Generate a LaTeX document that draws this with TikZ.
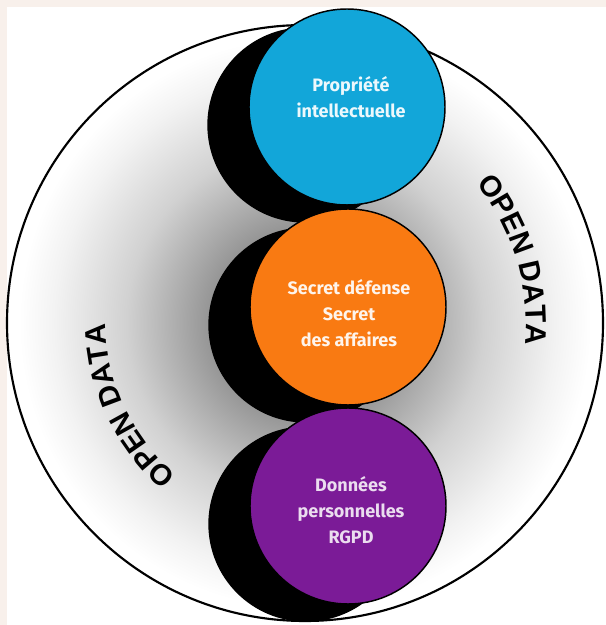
\documentclass[tikz,border=0pt]{standalone}
\usepackage{fontspec}
\usetikzlibrary{decorations.text}
\newfontfamily\circfont{Fira Sans}
\newfontfamily\odfont{Liberation Sans}

\definecolor{propblue}{HTML}{12A6D9}
\definecolor{secorange}{HTML}{F97A12}
\definecolor{rgpdpurple}{HTML}{7B1B97}
\definecolor{framebeige}{HTML}{F8F0EB}

\pgfdeclareradialshading{opendatashade}{\pgfpointorigin}{color(0bp)=(black!62); color(7bp)=(black!45); color(15bp)=(black!18); color(21bp)=(black!5); color(24bp)=(white); color(50bp)=(white)}

\tikzset{
  circtext/.style={align=center, font=\circfont\bfseries\fontsize{13.5}{19.5}\selectfont},
  shadowdisc/.style={line width=1pt, draw=black, fill=black},
  topicdisc/.style={line width=1.1pt, draw=black},
}

\begin{document}
\begin{tikzpicture}[x=0.75pt,y=0.75pt]
       \coordinate (SW) at (0,0);
       \coordinate (NE) at (606,625);
       \coordinate (WSW) at (7,0);
       \coordinate (WNE) at (606,618);

       \coordinate (O) at (305,302);

       \coordinate (P) at (347,518);
       \coordinate (S) at (348,318);
       \coordinate (D) at (348,119);

       \coordinate (PB) at (305,500);
       \coordinate (SB) at (306,300);
       \coordinate (DB) at (306,101);

       \fill[framebeige] (SW) rectangle (NE);
       \fill[white] (WSW) rectangle (WNE);

       \shade[shading=opendatashade] (O) circle (298);
       \draw[line width=1.6pt] (O) circle (298);

       \filldraw[shadowdisc] (PB) circle (97);
       \filldraw[topicdisc,fill=propblue] (P) circle (98);
       \filldraw[shadowdisc] (SB) circle (97);
       \filldraw[topicdisc,fill=secorange] (S) circle (98);
       \filldraw[shadowdisc] (DB) circle (97);
       \filldraw[topicdisc,fill=rgpdpurple] (D) circle (98);

       \node[circtext,text=white!92!propblue] (propriete) at (351,527.5) {Propriété\\intellectuelle};
       \node[circtext,text=white!92!secorange] (secret) at (349,312) {Secret défense\\Secret\\des affaires};
       \node[circtext,text=white!85!rgpdpurple] (donnees) at (351,115) {Données\\personnelles\\RGPD};

       % open data along the big circle
       \path[decorate,decoration={text along path,text align=center,
             text={|\odfont\bfseries\fontsize{22}{26}\selectfont|OPEN DATA}}]
             (O) ++(61.8:221) arc[start angle=61.8,end angle=-28.2,radius=221];
       \path[decorate,decoration={text along path,text align=center,
             text={|\odfont\bfseries\fontsize{22}{26}\selectfont|OPEN DATA}}]
             (O) ++(-110:199) arc[start angle=-110,end angle=-200,radius=199];
     \end{tikzpicture}
\end{document}
